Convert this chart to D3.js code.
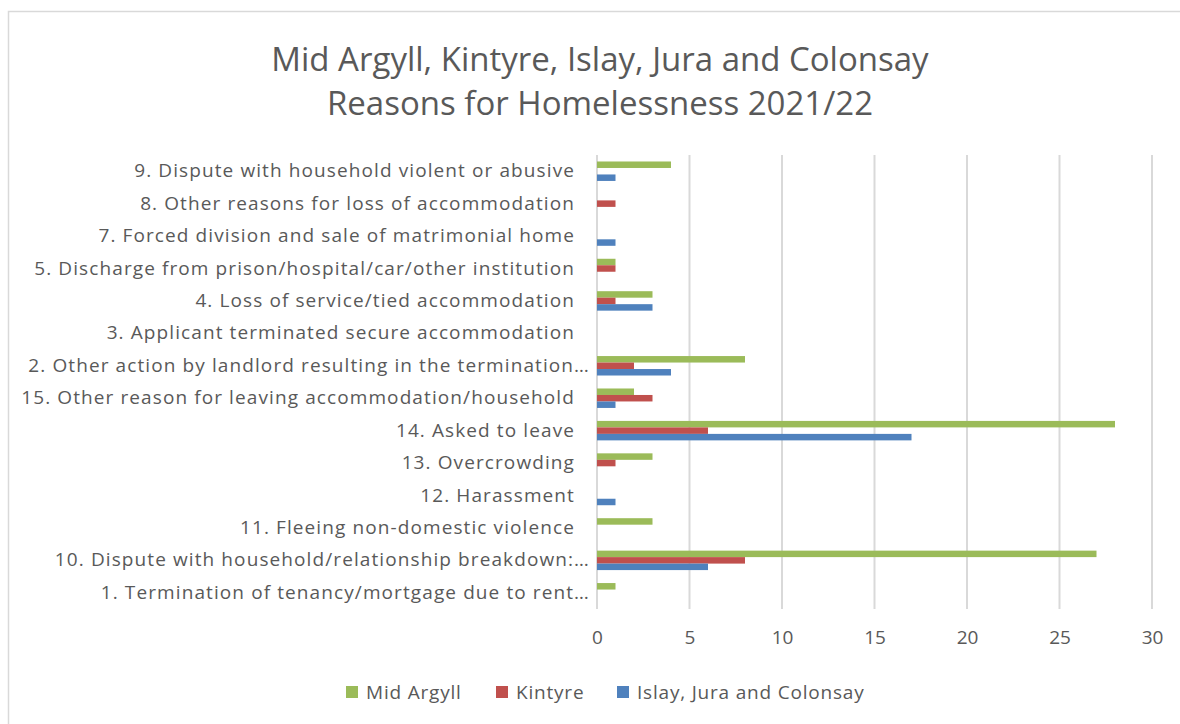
<!DOCTYPE html>
<html>
<head>
<meta charset="utf-8">
<script src="https://cdn.jsdelivr.net/npm/d3@7"></script>
<style>
  body { margin: 0; background: #fff; }
  text { font-family: "Open Sans", "Liberation Sans", sans-serif; fill: #595959; }
</style>
</head>
<body>
<div id="chart"></div>
<script>
// chart data
var categories = [
  "9. Dispute with household violent or abusive",
  "8. Other reasons for loss of accommodation",
  "7. Forced division and sale of matrimonial home",
  "5. Discharge from prison/hospital/car/other institution",
  "4. Loss of service/tied accommodation",
  "3. Applicant terminated secure accommodation",
  "2. Other action by landlord resulting in the termination…",
  "15. Other reason for leaving accommodation/household",
  "14. Asked to leave",
  "13. Overcrowding",
  "12. Harassment",
  "11. Fleeing non-domestic violence",
  "10. Dispute with household/relationship breakdown:…",
  "1. Termination of tenancy/mortgage due to rent…"
];
var seriesNames = ["Mid Argyll", "Kintyre", "Islay, Jura and Colonsay"];
var midArgyll = [4, 0, 0, 1, 3, 0, 8, 2, 28, 3, 0, 3, 27, 1];
var kintyre   = [0, 1, 0, 1, 1, 0, 2, 3, 6, 1, 0, 0, 8, 0];
var islay     = [1, 0, 1, 0, 3, 0, 4, 1, 17, 0, 1, 0, 6, 0];
var xTicks = [0, 5, 10, 15, 20, 25, 30];
var titleLines = ["Mid Argyll, Kintyre, Islay, Jura and Colonsay", "Reasons for Homelessness 2021/22"];

var colors = ["#9bbb59", "#c0504d", "#4f81bd"];
var values = [midArgyll, kintyre, islay];

//////////////////////////
// setup dimensions
//////////////////////////
var W = 1180, H = 724;
var plot = {left: 597, right: 1152, top: 155, bottom: 609};

var svg = d3.select("#chart").append("svg")
  .attr("width", W)
  .attr("height", H);

// chart frame
svg.append("rect")
  .attr("x", 8.5).attr("y", 11.5)
  .attr("width", W + 20).attr("height", H + 20)
  .attr("fill", "#fff")
  .attr("stroke", "#d9d9d9")
  .attr("stroke-width", 1.5);

// scales
var x = d3.scaleLinear()
  .domain([0, 30])
  .range([plot.left, plot.right]);
var y0 = d3.scaleBand()
  .domain(categories)
  .range([plot.top, plot.bottom])
  .paddingInner(0.4)
  .paddingOuter(0.2);
var y1 = d3.scaleBand()
  .domain(seriesNames)
  .range([0, y0.bandwidth()]);

// title
svg.append("text")
  .attr("x", 600)
  .attr("text-anchor", "middle")
  .style("font-size", "33px")
  .selectAll("tspan")
  .data(titleLines)
  .enter().append("tspan")
  .attr("x", 600)
  .attr("y", function(d, i) { return 71 + i * 44; })
  .text(function(d) { return d; });

// gridlines
svg.append("g")
  .selectAll("line")
  .data(xTicks)
  .enter().append("line")
  .attr("x1", function(d) { return x(d); })
  .attr("x2", function(d) { return x(d); })
  .attr("y1", plot.top)
  .attr("y2", plot.bottom)
  .attr("stroke", "#d9d9d9")
  .attr("stroke-width", 2);

// x axis labels
var xAxis = svg.append("g")
  .attr("transform", "translate(0," + (plot.bottom + 21) + ")")
  .call(d3.axisBottom(x).tickValues(xTicks).tickSize(0).tickPadding(0));
xAxis.select(".domain").remove();
xAxis.selectAll("text")
  .style("font-size", "19px")
  .attr("fill", "#595959")
  .style("font-family", "\"Open Sans\", sans-serif");

// y axis labels
var yAxis = svg.append("g")
  .attr("transform", "translate(" + (plot.left - 23) + ",0)")
  .call(d3.axisLeft(y0).tickSize(0).tickPadding(0));
yAxis.select(".domain").remove();
yAxis.selectAll("text")
  .style("font-size", "19px")
  .style("letter-spacing", "1.1px")
  .attr("fill", "#595959")
  .style("font-family", "\"Open Sans\", sans-serif")
  .attr("x", function(d) { return d.slice(-1) === "…" ? 16 : 1; });

// bars
var groups = svg.append("g")
  .selectAll("g")
  .data(categories)
  .enter().append("g")
  .attr("transform", function(d) { return "translate(0," + y0(d) + ")"; });

groups.selectAll("rect")
  .data(function(d, i) {
    return seriesNames.map(function(s, j) { return {series: s, value: values[j][i], color: colors[j]}; });
  })
  .enter().append("rect")
  .attr("x", x(0))
  .attr("y", function(d) { return y1(d.series); })
  .attr("width", function(d) { return x(d.value) - x(0); })
  .attr("height", y1.bandwidth())
  .attr("fill", function(d) { return d.color; });

// legend
var legendX = [346, 496, 617];
var legend = svg.append("g")
  .selectAll("g")
  .data(seriesNames)
  .enter().append("g")
  .attr("transform", function(d, i) { return "translate(" + legendX[i] + ",686)"; });
legend.append("rect")
  .attr("width", 12).attr("height", 12)
  .attr("fill", function(d, i) { return colors[i]; });
legend.append("text")
  .attr("x", 20).attr("y", 13)
  .style("font-size", "19px")
  .style("letter-spacing", "0.8px")
  .text(function(d) { return d; });
</script>
</body>
</html>
